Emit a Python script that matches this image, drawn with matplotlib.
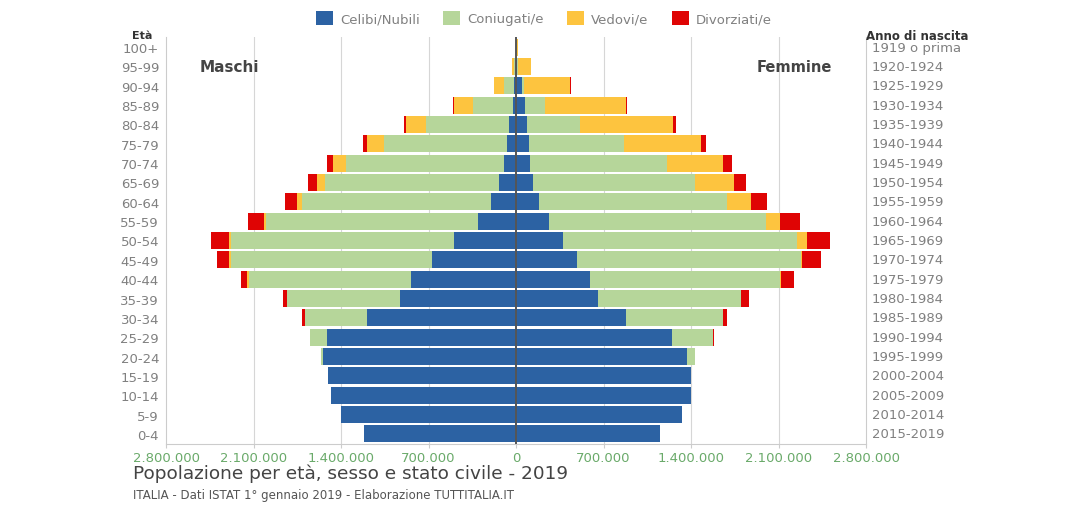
import numpy as np
import matplotlib
matplotlib.use('Agg')
import matplotlib.pyplot as plt
import matplotlib.transforms as mtransforms
from matplotlib.patches import Patch

plt.rcParams['font.family'] = ['DejaVu Sans']

# age classes, bottom to top
ages = ['0-4', '5-9', '10-14', '15-19', '20-24', '25-29', '30-34', '35-39', '40-44',
        '45-49', '50-54', '55-59', '60-64', '65-69', '70-74', '75-79', '80-84',
        '85-89', '90-94', '95-99', '100+']
years = ['2015-2019', '2010-2014', '2005-2009', '2000-2004', '1995-1999', '1990-1994',
         '1985-1989', '1980-1984', '1975-1979', '1970-1974', '1965-1969', '1960-1964',
         '1955-1959', '1950-1954', '1945-1949', '1940-1944', '1935-1939', '1930-1934',
         '1925-1929', '1920-1924', '1919 o prima']

# males (thousands)
m_cel = [1216, 1403, 1483, 1502, 1548, 1510, 1195, 928, 842, 673, 495, 307, 200, 134, 99, 75, 53, 27, 13, 3, 0.5]
m_con = [0, 0, 0, 0, 10, 139, 495, 903, 1296, 1609, 1783, 1692, 1510, 1395, 1264, 980, 668, 320, 80, 12, 1]
m_ved = [0, 0, 0, 0, 0, 0, 1, 3, 13, 16, 21, 19, 40, 67, 99, 134, 160, 152, 80, 20, 2]
m_div = [0, 0, 0, 0, 0, 3, 21, 32, 53, 94, 139, 128, 99, 70, 53, 32, 19, 5, 2, 0.5, 0]

# females (thousands)
f_cel = [1155, 1328, 1403, 1403, 1368, 1248, 882, 655, 588, 489, 374, 267, 187, 139, 115, 101, 88, 72, 45, 6, 1]
f_con = [0, 0, 0, 0, 61, 329, 770, 1144, 1523, 1788, 1876, 1732, 1502, 1291, 1096, 762, 425, 163, 21, 10, 1]
f_ved = [0, 0, 0, 0, 0, 1, 2, 3, 5, 13, 75, 112, 190, 313, 446, 615, 743, 641, 369, 104, 14]
f_div = [0, 0, 0, 0, 0, 5, 32, 59, 107, 150, 187, 160, 126, 94, 72, 40, 27, 11, 2, 0.5, 0]

labels = ['Celibi/Nubili', 'Coniugati/e', 'Vedovi/e', 'Divorziati/e']
colors = ['#2c62a3', '#b6d69a', '#fdc43f', '#df0404']

fig = plt.figure(figsize=(10.69, 5.10), dpi=100)
ax = fig.add_axes([166 / 1069, 65 / 510, 700 / 1069, 407 / 510])

y = np.arange(len(ages))
males = [np.array(s) * 1000 for s in (m_cel, m_con, m_ved, m_div)]
females = [np.array(s) * 1000 for s in (f_cel, f_con, f_ved, f_div)]

left_m = np.zeros(len(ages))
left_f = np.zeros(len(ages))
for i in range(4):
    ax.barh(y, -males[i], left=-left_m, height=0.88, color=colors[i], zorder=2)
    ax.barh(y, females[i], left=left_f, height=0.88, color=colors[i], zorder=2)
    left_m += males[i]
    left_f += females[i]

ax.set_xlim(-2800000, 2800000)
ax.set_ylim(-0.52, 20.52)

ticks = [-2800000, -2100000, -1400000, -700000, 0, 700000, 1400000, 2100000, 2800000]
ax.set_xticks(ticks)
ax.set_xticklabels([f'{abs(t):,}'.replace(',', '.') for t in ticks], color='#6aaa6a', fontsize=9.5)
ax.tick_params(axis='x', length=3, color='#cccccc', pad=2)
for t in ticks[1:-1]:
    if t != 0:
        ax.axvline(t, color='#d6d6d6', lw=0.8, zorder=1)
ax.axvline(0, color='#555555', lw=1.4, zorder=3)

ax.set_yticks(y)
ax.set_yticklabels(ages, color='#808080', fontsize=9.5)
ax.tick_params(axis='y', length=0, pad=5)

ax.spines['top'].set_visible(False)
for side in ['left', 'right', 'bottom']:
    ax.spines[side].set_color('#cccccc')
    ax.spines[side].set_linewidth(0.8)

trans = mtransforms.blended_transform_factory(ax.transAxes, ax.transData)
for i, yr in enumerate(years):
    ax.text(1.008, i, yr, transform=trans, ha='left', va='center', color='#808080', fontsize=9.5)

fig.text(866 / 1069, 1 - 37 / 510, 'Anno di nascita', ha='left', va='center', fontsize=8.5,
         fontweight='bold', color='#333333')
fig.text(142 / 1069, 1 - 36 / 510, 'Età', ha='center', va='center', fontsize=8,
         fontweight='bold', color='#333333')

fig.text(200 / 1069, 1 - 68 / 510, 'Maschi', ha='left', va='center', fontsize=11,
         fontweight='bold', color='#444444')
fig.text(832 / 1069, 1 - 68 / 510, 'Femmine', ha='right', va='center', fontsize=10.5,
         fontweight='bold', color='#444444')

handles = [Patch(facecolor=c, edgecolor='none') for c in colors]
fig.legend(handles, labels, loc='center', bbox_to_anchor=(544 / 1069, 1 - 19 / 510), ncol=4,
           frameon=False, fontsize=9.5, handlelength=1.3, handleheight=1.3,
           handletextpad=0.5, columnspacing=1.8, labelcolor='#808080')

fig.text(133 / 1069, 1 - 474 / 510, 'Popolazione per età, sesso e stato civile - 2019',
         ha='left', va='center', fontsize=13.3, color='#444444')
fig.text(133 / 1069, 1 - 496 / 510, 'ITALIA - Dati ISTAT 1° gennaio 2019 - Elaborazione TUTTITALIA.IT',
         ha='left', va='center', fontsize=8.5, color='#555555')

fig.savefig('out.png', dpi=100)
